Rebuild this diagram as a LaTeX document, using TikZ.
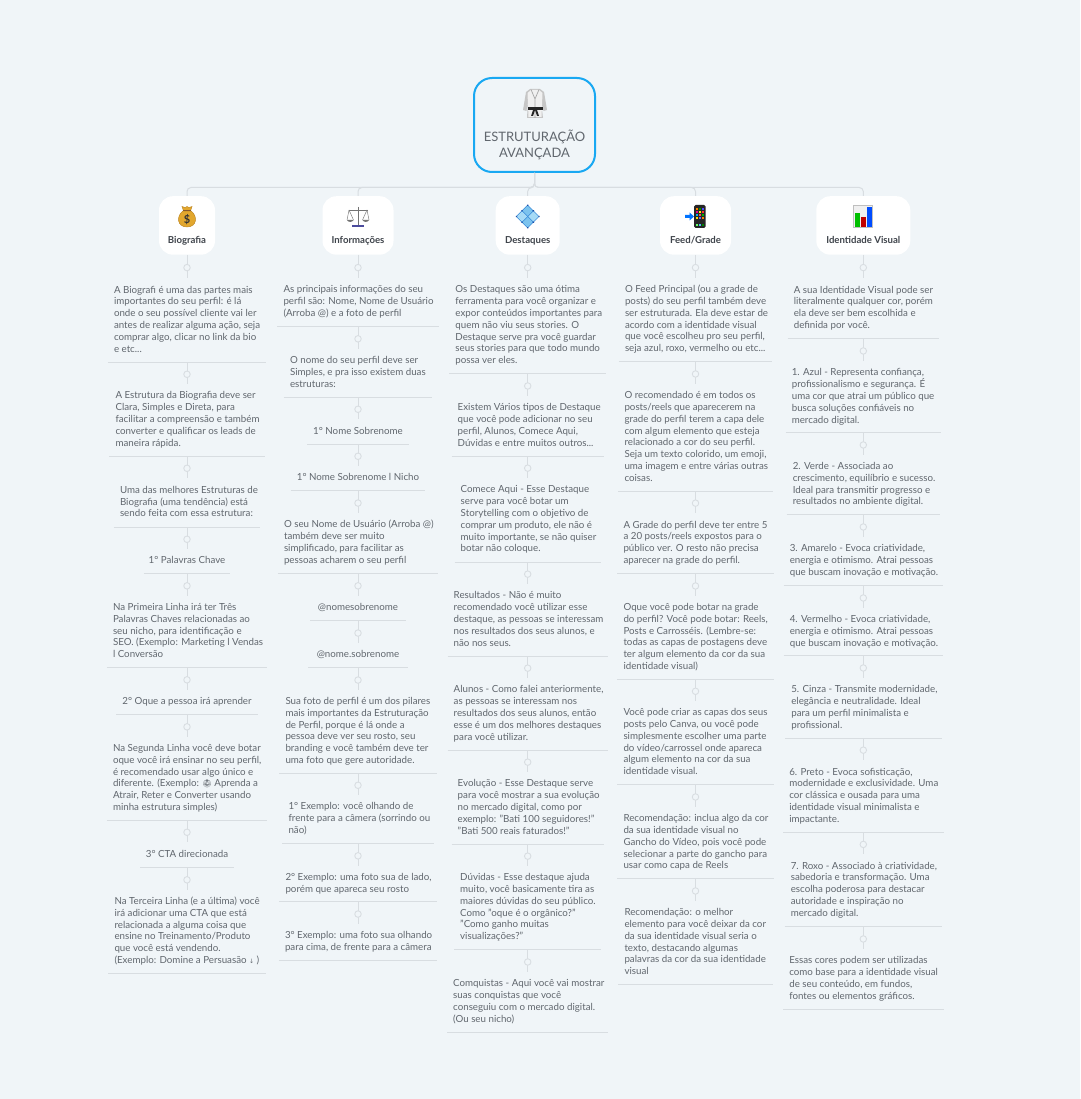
\documentclass[tikz,border=0pt]{standalone}
\usepackage{fontspec}
\setmainfont{Lato}
\newfontfamily\emojif{Noto Emoji}
\newfontfamily\arrowf{DejaVu Sans}
\definecolor{bgc}{HTML}{F0F5F8}
\definecolor{linec}{HTML}{D8DDE1}
\definecolor{txtc}{HTML}{61676E}
\definecolor{hdrc}{HTML}{3F444B}
\definecolor{rootc}{HTML}{19A8F2}
\definecolor{goldc}{HTML}{E2A72E}
\definecolor{goldd}{HTML}{B9801C}
\definecolor{tilec}{HTML}{A6DAF6}
\definecolor{tiled}{HTML}{7CC3EE}
\definecolor{diamc}{HTML}{3A8CDA}
\definecolor{diamd}{HTML}{1D4FA8}
\tikzset{
 itembox/.style={inner sep=0pt,anchor=north,text=txtc,font=\fontsize{9.75}{11.8}\selectfont},
 rulel/.style={draw=linec,line width=1pt},
 conn/.style={draw=linec,line width=1pt},
 dotn/.style={circle,draw=linec,fill=bgc,line width=.9pt,minimum size=6.5pt,inner sep=0pt},
 hdr/.style={fill=white,rounded corners=14pt,inner xsep=0pt,inner ysep=0pt,text=hdrc,
   font=\fontsize{9.6}{11}\selectfont\bfseries,text height=47.5pt,text depth=11pt,anchor=north},
 rootn/.style={draw=rootc,line width=2pt,fill=bgc,rounded corners=18pt,inner sep=0pt,text=txtc,
   minimum width=121pt,font=\fontsize{13}{16}\selectfont,text height=80pt,text depth=14pt,anchor=north},
}
\newcommand\itm[6]{%
 \pgfmathsetlengthmacro\myh{#5-#4+12}%
 \node[itembox,minimum width=#3pt,minimum height=\myh] (#1) at (#2,#4-12)
  {\makebox[\dimexpr#3pt-12pt\relax][l]{\raisebox{-.5pt}{\begin{tabular}{@{}l@{}}#6\end{tabular}}}};
 \draw[rulel] (#1.south west) -- (#1.south east);}
\newcommand\itc[6]{%
 \pgfmathsetlengthmacro\myh{#5-#4+12}%
 \node[itembox,minimum width=#3pt,minimum height=\myh] (#1) at (#2,#4-12)
  {\makebox[\dimexpr#3pt-12pt\relax][c]{\raisebox{-.5pt}{\begin{tabular}{@{}c@{}}#6\end{tabular}}}};
 \draw[rulel] (#1.south west) -- (#1.south east);}
\newcommand\lnk[2]{\draw[conn] (#1.south) -- node[dotn,pos=.55] (#1-#2) {} (#2.north);}
\begin{document}
\begin{tikzpicture}[x=1pt,y=-1pt]
\useasboundingbox (0,0) rectangle (1080,1099);
\fill[bgc] (0,0) rectangle (1080,1099);
% root and headers
\node[rootn] (root) at (534.5,77) {\begin{tabular}[b]{@{}c@{}}ESTRUTURAÇÃO\\AVANÇADA\end{tabular}};
\node[hdr,minimum width=56pt] (bio) at (187,196) {Biografia};
\node[hdr,minimum width=71pt] (info) at (358,196) {Informações};
\node[hdr,minimum width=64pt] (dest) at (527.7,196) {Destaques};
\node[hdr,minimum width=71pt] (feed) at (695.5,196) {Feed/Grade};
\node[hdr,minimum width=94pt] (ident) at (863.3,196) {Identidade Visual};
\foreach \h in {bio,info,dest,feed,ident}
 \draw[conn,rounded corners=4pt] (root.south) -- ++(0,14.5) -| (\h.north);
% column 1
\itm{a1}{187}{158}{290}{362}{A Biografi é uma das partes mais\\importantes do seu perfil: é lá\\onde o seu possível cliente vai ler\\antes de realizar alguma ação, seja\\comprar algo, clicar no link da bio\\e etc...}
\itm{a2}{187}{155}{396}{456}{A Estrutura da Biografia deve ser\\Clara, Simples e Direta, para\\facilitar a compreensão e também\\converter e qualificar os leads de\\maneira rápida.}
\itm{a3}{187}{146}{490}{527}{Uma das melhores Estruturas de\\Biografia (uma tendência) está\\sendo feita com essa estrutura:}
\itc{a4}{187}{86}{561}{573}{1° Palavras Chave}
\itm{a5}{187}{160}{608}{667}{Na Primeira Linha irá ter Três\\Palavras Chaves relacionadas ao\\seu nicho, para identificação e\\SEO. (Exemplo: Marketing l Vendas\\l Conversão}
\itc{a6}{187}{141}{702}{714}{2° Oque a pessoa irá aprender}
\itm{a7}{187}{160}{749}{820}{Na Segunda Linha você deve botar\\oque você irá ensinar no seu perfil,\\é recomendado usar algo único e\\diferente. (Exemplo: {\emojif\fontsize{7.5}{8}\selectfont 🥋} Aprenda a\\Atrair, Reter e Converter usando\\minha estrutura simples)}
\itc{a8}{187}{93}{854}{867}{3° CTA direcionada}
\itm{a9}{187}{157}{902}{973}{Na Terceira Linha (e a última) você\\irá adicionar uma CTA que está\\relacionada a alguma coisa que\\ensine no Treinamento/Produto\\que você está vendendo.\\(Exemplo: Domine a Persuasão {\arrowf\fontsize{6}{8}\selectfont ↓} )}
% column 2
\itm{b1}{358}{161}{290}{326}{As principais informações do seu\\perfil são: Nome, Nome de Usuário\\(Arroba @) e a foto de perfil}
\itm{b2}{358}{148}{361}{397}{O nome do seu perfil deve ser\\Simples, e pra isso existem duas\\estruturas:}
\itc{b3}{358}{101}{431}{444}{1° Nome Sobrenome}
\itc{b4}{358}{134}{478}{490.5}{1° Nome Sobrenome l Nicho}
\itm{b5}{358}{160}{525}{573}{O seu Nome de Usuário (Arroba @)\\também deve ser muito\\simplificado, para facilitar as\\pessoas acharem o seu perfil}
\itc{b6}{358}{95}{608}{620.5}{@nomesobrenome}
\itc{b7}{358}{99}{655}{667.5}{@nome.sobrenome}
\itm{b8}{358}{157}{702}{773}{Sua foto de perfil é um dos pilares\\mais importantes da Estruturação\\de Perfil, porque é lá onde a\\pessoa deve ver seu rosto, seu\\branding e você também deve ter\\uma foto que gere autoridade.}
\itm{b9}{358}{151}{807}{843}{1° Exemplo: você olhando de\\frente para a câmera (sorrindo ou\\não)}
\itm{b10}{358}{157}{878}{901.5}{2° Exemplo: uma foto sua de lado,\\porém que apareca seu rosto}
\itm{b11}{358}{158}{936}{960}{3° Exemplo: uma foto sua olhando\\para cima, de frente para a câmera}
% column 3
\itm{c1}{527.7}{156.5}{290}{373.3}{Os Destaques são uma ótima\\ferramenta para você organizar e\\expor conteúdos importantes para\\quem não viu seus stories. O\\Destaque serve pra você guardar\\seus stories para que todo mundo\\possa ver eles.}
\itm{c2}{527.7}{152}{408}{455.7}{Existem Vários tipos de Destaque\\que você pode adicionar no seu\\perfil, Alunos, Comece Aqui,\\Dúvidas e entre muitos outros...}
\itm{c3}{527.7}{146}{490}{561.7}{Comece Aqui - Esse Destaque\\serve para você botar um\\Storytelling com o objetivo de\\comprar um produto, ele não é\\muito importante, se não quiser\\botar não coloque.}
\itm{c4}{527.7}{160}{596}{655.7}{Resultados - Não é muito\\recomendado você utilizar esse\\destaque, as pessoas se interessam\\nos resultados dos seus alunos, e\\não nos seus.}
\itm{c5}{527.7}{160}{690}{749.7}{Alunos - Como falei anteriormente,\\as pessoas se interessam nos\\resultados dos seus alunos, então\\esse é um dos melhores destaques\\para você utilizar.}
\itm{c6}{527.7}{152}{784}{843.7}{Evolução - Esse Destaque serve\\para você mostrar a sua evolução\\no mercado digital, como por\\exemplo: "Bati 100 seguidores!"\\"Bati 500 reais faturados!"}
\itm{c7}{527.7}{147}{878}{949.3}{Dúvidas - Esse destaque ajuda\\muito, você basicamente tira as\\maiores dúvidas do seu público.\\Como "oque é o orgânico?"\\"Como ganho muitas\\visualizações?"}
\itm{c8}{527.7}{161}{984}{1031.7}{Comquistas - Aqui você vai mostrar\\suas conquistas que você\\conseguiu com o mercado digital.\\(Ou seu nicho)}
% column 4
\itm{d1}{695.5}{153}{290}{361.3}{O Feed Principal (ou a grade de\\posts) do seu perfil também deve\\ser estruturada. Ela deve estar de\\acordo com a identidade visual\\que você escolheu pro seu perfil,\\seja azul, roxo, vermelho ou etc...}
\itm{d2}{695.5}{154}{396}{490.7}{O recomendado é em todos os\\posts/reels que aparecerem na\\grade do perfil terem a capa dele\\com algum elemento que esteja\\relacionado a cor do seu perfil.\\Seja um texto colorido, um emoji,\\uma imagem e entre várias outras\\coisas.}
\itm{d3}{695.5}{156}{525}{573.3}{A Grade do perfil deve ter entre 5\\a 20 posts/reels expostos para o\\público ver. O resto não precisa\\aparecer na grade do perfil.}
\itm{d4}{695.5}{156}{608}{679}{Oque você pode botar na grade\\do perfil? Você pode botar: Reels,\\Posts e Carrosséis. (Lembre-se:\\todas as capas de postagens deve\\ter algum elemento da cor da sua\\identidade visual)}
\itm{d5}{695.5}{156}{713}{784.3}{Você pode criar as capas dos seus\\posts pelo Canva, ou você pode\\simplesmente escolher uma parte\\do vídeo/carrossel onde apareca\\algum elemento na cor da sua\\identidade visual.}
\itm{d6}{695.5}{156}{819}{878.3}{Recomendação: inclua algo da cor\\da sua identidade visual no\\Gancho do Vídeo, pois você pode\\selecionar a parte do gancho para\\usar como capa de Reels}
\itm{d7}{695.5}{154}{913}{984.3}{Recomendação: o melhor\\elemento para você deixar da cor\\da sua identidade visual seria o\\texto, destacando algumas\\palavras da cor da sua identidade\\visual}
% column 5
\itm{e1}{863.3}{151}{290}{338.3}{A sua Identidade Visual pode ser\\literalmente qualquer cor, porém\\ela deve ser bem escolhida e\\definida por você.}
\itm{e2}{863.3}{155}{373}{432.3}{1. Azul - Representa confiança,\\profissionalismo e segurança. É\\uma cor que atrai um público que\\busca soluções confiáveis no\\mercado digital.}
\itm{e3}{863.3}{153}{467}{514.3}{2. Verde - Associada ao\\crescimento, equilíbrio e sucesso.\\Ideal para transmitir progresso e\\resultados no ambiente digital.}
\itm{e4}{863.3}{159}{549}{585.3}{3. Amarelo - Evoca criatividade,\\energia e otimismo. Atrai pessoas\\que buscam inovação e motivação.}
\itm{e5}{863.3}{159}{620}{655.3}{4. Vermelho - Evoca criatividade,\\energia e otimismo. Atrai pessoas\\que buscam inovação e motivação.}
\itm{e6}{863.3}{156}{690}{737.7}{5. Cinza - Transmite modernidade,\\elegância e neutralidade. Ideal\\para um perfil minimalista e\\profissional.}
\itm{e7}{863.3}{160}{772}{832.3}{6. Preto - Evoca sofisticação,\\modernidade e exclusividade. Uma\\cor clássica e ousada para uma\\identidade visual minimalista e\\impactante.}
\itm{e8}{863.3}{157}{866}{926.3}{7. Roxo - Associado à criatividade,\\sabedoria e transformação. Uma\\escolha poderosa para destacar\\autoridade e inspiração no\\mercado digital.}
\itm{e9}{863.3}{160}{961}{1008.7}{Essas cores podem ser utilizadas\\como base para a identidade visual\\de seu conteúdo, em fundos,\\fontes ou elementos gráficos.}
% connectors
\lnk{bio}{a1}\lnk{a1}{a2}\lnk{a2}{a3}\lnk{a3}{a4}\lnk{a4}{a5}\lnk{a5}{a6}\lnk{a6}{a7}\lnk{a7}{a8}\lnk{a8}{a9}
\lnk{info}{b1}\lnk{b1}{b2}\lnk{b2}{b3}\lnk{b3}{b4}\lnk{b4}{b5}\lnk{b5}{b6}\lnk{b6}{b7}\lnk{b7}{b8}\lnk{b8}{b9}\lnk{b9}{b10}\lnk{b10}{b11}
\lnk{dest}{c1}\lnk{c1}{c2}\lnk{c2}{c3}\lnk{c3}{c4}\lnk{c4}{c5}\lnk{c5}{c6}\lnk{c6}{c7}\lnk{c7}{c8}
\lnk{feed}{d1}\lnk{d1}{d2}\lnk{d2}{d3}\lnk{d3}{d4}\lnk{d4}{d5}\lnk{d5}{d6}\lnk{d6}{d7}
\lnk{ident}{e1}\lnk{e1}{e2}\lnk{e2}{e3}\lnk{e3}{e4}\lnk{e4}{e5}\lnk{e5}{e6}\lnk{e6}{e7}\lnk{e7}{e8}\lnk{e8}{e9}
% gi icon
\fill[gray!45] (530,89) -- (526,92) -- (523,110) -- (526.5,111) -- (528,101) -- (527,118) -- (543,118) -- (541,101) -- (543.5,111) -- (547,110) -- (544,92) -- (540,89) -- cycle;
\fill[gray!12] (531,90) -- (527.5,93) -- (528.5,117) -- (541.5,117) -- (542.5,93) -- (539,90) -- cycle;
\draw[gray!70,line width=.7pt] (531,89.5) -- (535,99) -- (539,89.5) (535,99) -- (535,118);
\fill[black!85] (527.5,107) rectangle (542.5,110);
\fill[black!85] (533,110) -- (531,116) -- (533,116) -- (535,110) -- (537,116) -- (539,116) -- (537,110) -- cycle;
% money bag icon
\fill[goldc,draw=goldd,line width=.4pt] (183,211) .. controls (176,216) and (177,227) .. (187,227) .. controls (197,227) and (198,216) .. (191,211) -- cycle;
\fill[goldc,draw=goldd,line width=.4pt] (182,206.5) -- (185,207.5) -- (187,206.5) -- (189,207.5) -- (192,206.5) -- (190.5,211) -- (183.5,211) -- cycle;
\draw[brown!70!black,line width=1pt] (183.3,211) -- (190.7,211);
\node[inner sep=0pt,text=black!80,font=\fontsize{11}{11}\selectfont\bfseries] (dollar) at (187,219.5) {\$};
% scales icon
\draw[black!55,line width=.8pt] (358,207) -- (358,225) (348.5,210) -- (367.5,210);
\draw[black!50,line width=.5pt] (349,210) -- (347,220) (349,210) -- (353.5,220) (367,210) -- (362.5,220) (367,210) -- (369,220);
\fill[black!55] (347,220) .. controls (348,222.5) and (352.5,222.5) .. (353.5,220) -- cycle;
\fill[black!55] (362.5,220) .. controls (363.5,222.5) and (368,222.5) .. (369,220) -- cycle;
\fill[blue!45!black!70] (352,225) rectangle (364,227);
% diamond icon
\begin{scope}[shift={(527.7,216.5)},rotate=45]
\fill[diamc,rounded corners=1pt] (-8.3,-8.3) rectangle (8.3,8.3);
\fill[tilec] (-7.6,-7.6) rectangle (-.5,-.5);
\fill[tiled] (.5,-7.6) rectangle (7.6,-.5);
\fill[tiled] (-7.6,.5) rectangle (-.5,7.6);
\fill[tilec] (.5,.5) rectangle (7.6,7.6);
\foreach \u/\v in {-8/-8,8/-8,-8/8,8/8,0/-8,0/8,-8/0,8/0}
 \fill[diamd] (\u,\v) circle (.9);
\end{scope}
% phone icon
\fill[black!85] (694,205) [rounded corners=1.5pt] rectangle (705.5,228);
\fill[orange] (695.5,208) rectangle (697.5,210);\fill[green!60!black] (698.5,208) rectangle (700.5,210);\fill[blue!70] (701.5,208) rectangle (703.8,210);
\fill[magenta] (695.5,211) rectangle (697.5,213);\fill[yellow] (698.5,211) rectangle (700.5,213);\fill[red!80] (701.5,211) rectangle (703.8,213);
\fill[cyan] (695.5,214) rectangle (697.5,216);\fill[red!70] (698.5,214) rectangle (700.5,216);\fill[green!70!black] (701.5,214) rectangle (703.8,216);
\fill[yellow!80!orange] (695.5,217) rectangle (697.5,219);\fill[blue!60] (698.5,217) rectangle (700.5,219);\fill[orange] (701.5,217) rectangle (703.8,219);
\fill[green!60] (695.5,224) rectangle (697.5,226);\fill[cyan!70] (698.5,224) rectangle (700.5,226);\fill[green!50!black] (701.5,224) rectangle (703.8,226);
\fill[blue!55!cyan] (685,215) -- (689.5,215) -- (689.5,212.5) -- (694,216.5) -- (689.5,220.5) -- (689.5,218) -- (685,218) -- cycle;
% chart icon
\fill[black!25] (853,205) rectangle (873,228);
\fill[black!6] (854,206) rectangle (872,227);
\fill[green!75!black] (855,212.7) rectangle (859.5,227);
\fill[red!75!black] (861,216.7) rectangle (865.5,227);
\fill[blue!70!cyan] (867,207) rectangle (872,227);
\end{tikzpicture}
\end{document}
